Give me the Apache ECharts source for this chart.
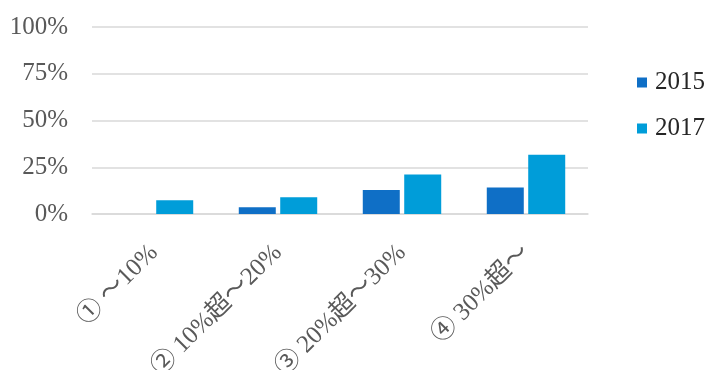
<!DOCTYPE html>
<html>
<head>
<meta charset="utf-8">
<script src="https://cdn.jsdelivr.net/npm/echarts@6/dist/echarts.min.js"></script>
<style>
  html, body { margin: 0; padding: 0; background: #fff; }
  #chart { width: 709px; height: 370px; }
</style>
</head>
<body>
<div id="chart"></div>
<script>
// Share of companies by ratio band, 2015 vs 2017
const categories = ['① ～10%', '② 10%超～20%', '③ 20%超～30%', '④ 30%超～'];
const seriesNames = ['2015', '2017'];
const values2015 = [0, 3.6, 12.9, 14.2];
const values2017 = [7.3, 9.0, 21.1, 31.7];
const yTicks = [0, 25, 50, 75, 100];

const serif = "'Liberation Serif', 'Noto Sans CJK JP', serif";
const chart = echarts.init(document.getElementById('chart'));

chart.setOption({
  animation: false,
  color: ['#0F6FC6', '#009DD9'],
  grid: {
    left: 92, right: 121, top: 27, bottom: 156,
    containLabel: false,
    outerBoundsMode: 'none'
  },
  legend: {
    orient: 'vertical',
    left: 632,
    top: 65,
    itemWidth: 10,
    itemHeight: 10,
    itemGap: 21,
    icon: 'rect',
    textStyle: { fontFamily: serif, fontSize: 25, color: '#262626', padding: [0, 0, 0, 3] },
    data: seriesNames
  },
  xAxis: {
    type: 'category',
    data: categories,
    axisLine: { lineStyle: { color: '#D9D9D9', width: 1.5 } },
    axisTick: { length: 7, lineStyle: { color: '#D9D9D9', width: 1.5 } },
    axisLabel: {
      rotate: 45,
      margin: 35,
      fontFamily: serif,
      fontSize: 25,
      color: '#595959',
      interval: 0
    }
  },
  yAxis: {
    type: 'value',
    min: yTicks[0],
    max: yTicks[yTicks.length - 1],
    interval: 25,
    axisLine: { show: false },
    axisTick: { show: false },
    splitLine: { lineStyle: { color: '#D9D9D9', width: 1.5 } },
    axisLabel: {
      margin: 24,
      fontFamily: serif,
      fontSize: 25,
      color: '#595959',
      formatter: '{value}%'
    }
  },
  series: [
    {
      name: seriesNames[0],
      type: 'bar',
      data: values2015,
      barWidth: 37,
      barGap: '12%'
    },
    {
      name: seriesNames[1],
      type: 'bar',
      data: values2017,
      barWidth: 37,
      barGap: '12%'
    }
  ]
});
</script>
</body>
</html>
